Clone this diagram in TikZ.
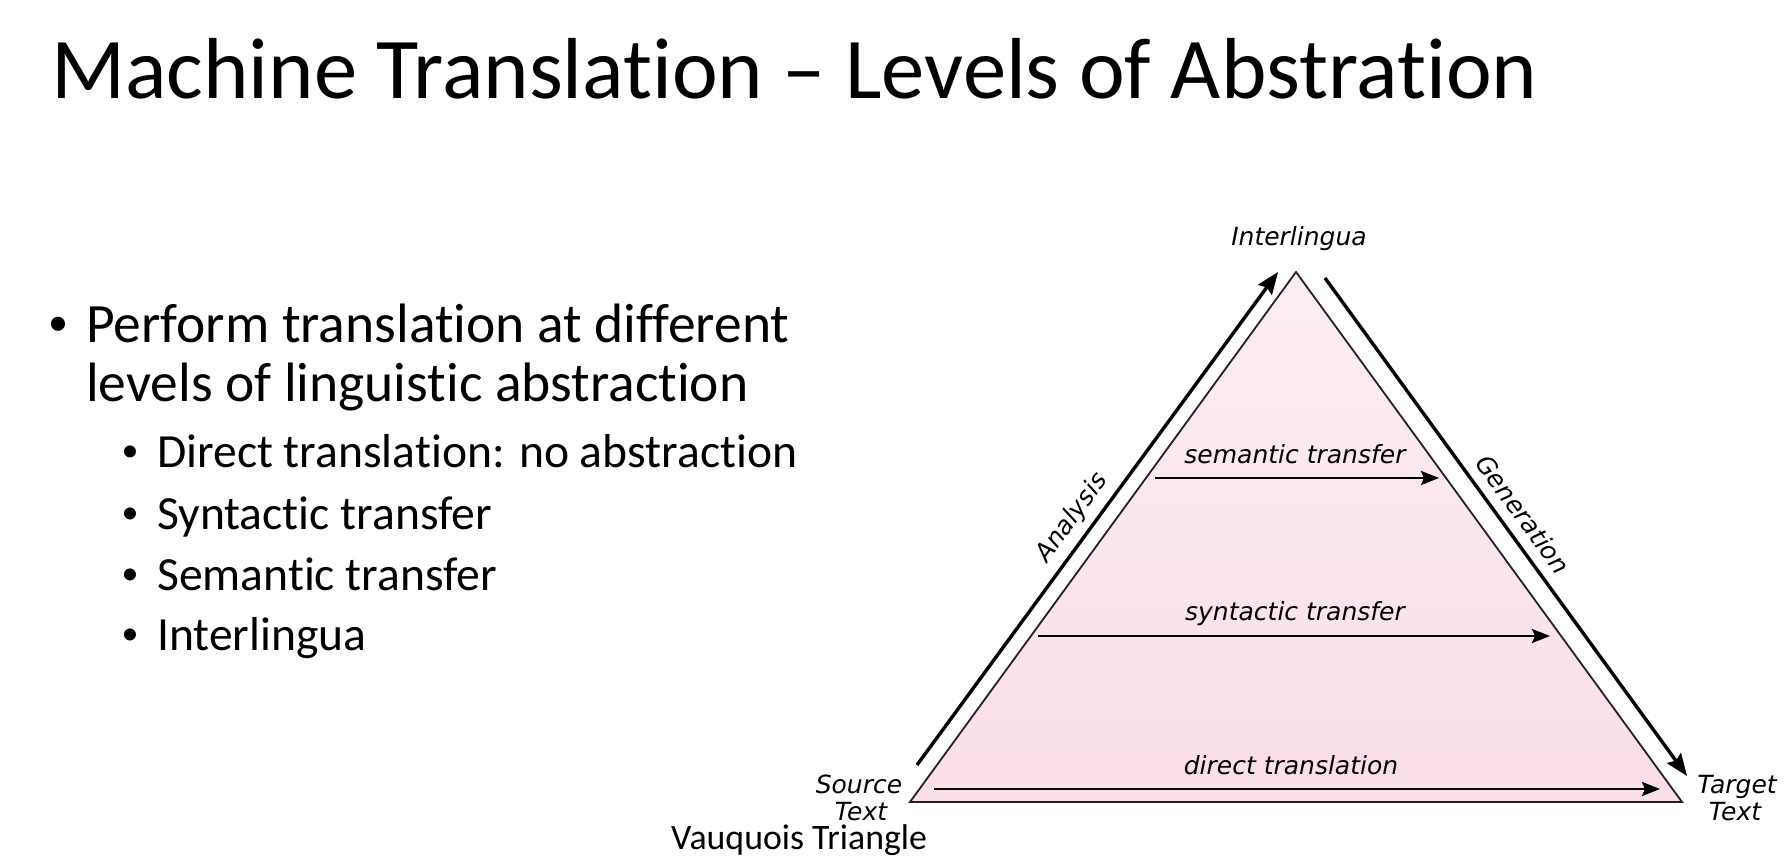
\documentclass[tikz,border=0pt]{standalone}
\usepackage{fontspec}
\setmainfont{Carlito}[Ligatures={NoCommon}]
\newfontfamily\labfont{DejaVu Sans}
\usetikzlibrary{arrows.meta}
\definecolor{triTop}{RGB}{252,237,244}
\definecolor{triBot}{RGB}{250,222,232}
\definecolor{triEdge}{RGB}{45,28,34}
\begin{document}
\begin{tikzpicture}[x=1pt,y=-1pt,
  lab/.style={font=\labfont\itshape\fontsize{25}{27}\selectfont, inner sep=0pt},
  txt/.style={anchor=base west, inner sep=0pt},
  mainfont/.style={font=\fontsize{55.5}{59}\selectfont},
  subfont/.style={font=\fontsize{47.6}{55}\selectfont},
  dot/.style={anchor=base, inner sep=0pt, font=\fontsize{40}{40}\selectfont},
  flow/.style={line width=2.6pt, -{Stealth[length=18pt,width=14pt,inset=3pt]}},
  side/.style={line width=3.4pt, line cap=butt},
]
\useasboundingbox (0,0) rectangle (1792,865);
\fill[white] (0,0) rectangle (1792,865);

% heading
\node[txt, font=\fontsize{86.6}{90}\selectfont] (title) at (51,98)
  {Machine Translation \textendash{} Levels of Abstration};

% bullet list
\node[dot] (b0) at (58,335) {\textbullet};
\node[txt, mainfont] (l0a) at (86,342) {Perform translation at different};
\node[txt, mainfont] (l0b) at (86,401) {levels of linguistic abstraction};
\node[dot, font=\fontsize{34}{34}\selectfont] (b1) at (130,461) {\textbullet};
\node[txt, subfont] (l1) at (157,467) {Direct translation: no abstraction};
\node[dot, font=\fontsize{34}{34}\selectfont] (b2) at (130,523) {\textbullet};
\node[txt, subfont] (l2) at (157,529) {Syntactic transfer};
\node[dot, font=\fontsize{34}{34}\selectfont] (b3) at (130,584) {\textbullet};
\node[txt, subfont] (l3) at (157,590) {Semantic transfer};
\node[dot, font=\fontsize{34}{34}\selectfont] (b4) at (130,644) {\textbullet};
\node[txt, subfont] (l4) at (157,650) {Interlingua};

% Vauquois triangle
\coordinate (SL) at (910,802);
\coordinate (AP) at (1296,272);
\coordinate (SR) at (1682,802);
\path[draw=triEdge, line width=1.8pt, line join=miter, top color=triTop, bottom color=triBot]
  (SL) -- (AP) -- (SR) -- cycle;

% analysis and generation sides
\coordinate (an1) at (917,765);
\coordinate (an2) at (1278,272);
\coordinate (ge1) at (1325,278);
\coordinate (ge2) at (1687,776);
\draw[side, -{Stealth[length=22pt,width=17pt,inset=3pt]}] (an1) -- (an2);
\draw[side, -{Stealth[length=22pt,width=17pt,inset=3pt]}] (ge1) -- (ge2);

% transfer levels
\coordinate (se1) at (1155,478);
\coordinate (se2) at (1439,478);
\coordinate (sy1) at (1038,636);
\coordinate (sy2) at (1550,636);
\coordinate (di1) at (934,789);
\coordinate (di2) at (1660,789);
\draw[flow] (se1) -- (se2);
\draw[flow] (sy1) -- (sy2);
\draw[flow] (di1) -- (di2);

% labels
\node[lab, anchor=base] (interlingua) at (1299,245) {Interlingua};
\node[lab, anchor=base] (semlab) at (1295,463) {semantic transfer};
\node[lab, anchor=base] (synlab) at (1295,620) {syntactic transfer};
\node[lab, anchor=base] (dirlab) at (1291,774) {direct translation};
\node[lab, anchor=base] (src1) at (859,793) {Source};
\node[lab, anchor=base] (src2) at (861,820) {Text};
\node[lab, anchor=base] (tgt1) at (1737,793) {Target};
\node[lab, anchor=base] (tgt2) at (1735,820) {Text};
\node[lab, rotate=53.9] (analysis) at (1072,518) {Analysis};
\node[lab, rotate=-53.9] (generation) at (1523,514) {Generation};

\node[txt, font=\fontsize{35.8}{38}\selectfont] (caption) at (671,849) {Vauquois Triangle};
\end{tikzpicture}
\end{document}
